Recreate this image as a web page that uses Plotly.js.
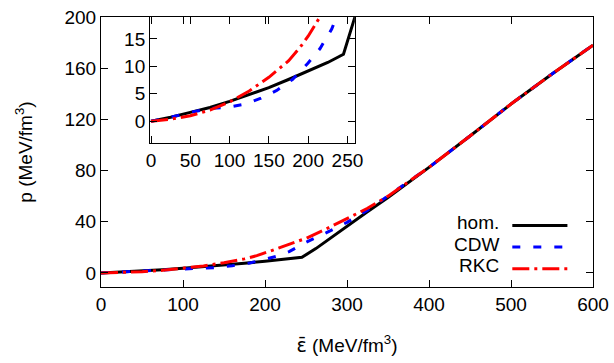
<!DOCTYPE html>
<html>
<head>
<meta charset="utf-8">
<script src="https://cdn.plot.ly/plotly-3.0.1.min.js"></script>
<style>html,body{margin:0;padding:0;background:#fff;}#plot{width:614px;height:363px;}</style>
</head>
<body>
<div id="plot"></div>
<script>
// Series data (energy density in MeV/fm^3, pressure in MeV/fm^3)
const homEps = [0,25,50,75,100,125,150,175,200,225,245,262,300,324,350,400,450,500,550,600];
const homP   = [0,0.7,1.6,2.5,3.6,4.8,6.1,7.6,9.1,10.7,12.2,19,36.8,47.4,59,82.5,107,132,155.5,178];

const cdwEps = [0,25,50,75,100,120,140,160,180,200,215,230,250,275,300,325,350,375,400,450,500,550,600];
const cdwP   = [0,0.7,1.6,2.3,2.6,3.1,4.2,5.6,7.6,10.6,13.2,16.8,24,31.5,39.5,49,60,71,82.5,107,132,155.5,178];

const rkcEps = [0,25,50,75,100,125,150,175,190,200,215,230,250,275,300,325,350,375,400,450,500,550,600];
const rkcP   = [0,0.35,1.0,2.0,3.5,5.5,8.0,11.0,13.5,15.5,19,22.5,27,34.5,42.5,50.5,60,71,82.5,107,132,155.5,178];

const seriesNames = ["hom.", "CDW", "RKC"];
const mainXTicks = [0,100,200,300,400,500,600];
const mainYTicks = [0,40,80,120,160,200];
const insetXTicks = [0,50,100,150,200,250];
const insetYTicks = [0,5,10,15];

const styles = [
  {color:'#000000', width:3, dash:'solid'},
  {color:'#0000ff', width:3, dash:'8px,13px'},
  {color:'#ff0000', width:3, dash:'17px,5px,3px,5px'}
];
const xs = [homEps, cdwEps, rkcEps];
const ys = [homP, cdwP, rkcP];

const traces = [];
for (let i = 0; i < 3; i++) {
  traces.push({x: xs[i], y: ys[i], mode:'lines', name: seriesNames[i], line: styles[i], xaxis:'x', yaxis:'y', showlegend:false});
}
for (let i = 0; i < 3; i++) {
  traces.push({x: xs[i], y: ys[i], mode:'lines', name: seriesNames[i], line: styles[i], xaxis:'x2', yaxis:'y2', showlegend:false});
}

const F = "Liberation Sans, Arial, Helvetica, sans-serif";
const FS = 19;
const axisCommon = {
  showline:true, linecolor:'#000', linewidth:1, mirror:'ticks',
  ticks:'inside', ticklen:7, tickwidth:1, tickcolor:'#000',
  showgrid:false, zeroline:false, tickfont:{family:F, size:FS, color:'#000'}
};

// legend (gnuplot style: label then sample)
const legY = [0.238, 0.158, 0.078];
const annotations = [];
const shapes = [];
for (let i = 0; i < 3; i++) {
  annotations.push({xref:'paper', yref:'paper', x:0.812, y:legY[i], xanchor:'right', yanchor:'middle',
    text: seriesNames[i], showarrow:false, font:{family:F, size:FS, color:'#000'}});
  shapes.push({type:'line', xref:'paper', yref:'paper', x0:0.836, x1:0.948, y0:legY[i]-0.01, y1:legY[i]-0.01,
    line:{color:styles[i].color, width:3, dash:styles[i].dash}});
}

const layout = {
  width:614, height:363,
  margin:{l:101, r:21, t:17, b:76},
  paper_bgcolor:'#fff', plot_bgcolor:'rgba(0,0,0,0)',
  font:{family:F, size:FS, color:'#000'},
  xaxis: Object.assign({}, axisCommon, {range:[0,600], tickvals:mainXTicks, domain:[0,1], anchor:'y',
    title:{text:'<span style="font-family:DejaVu Sans">ε̄</span> (MeV/fm<sup>3</sup>)', font:{family:F, size:FS}, standoff:24}}),
  yaxis: Object.assign({}, axisCommon, {range:[-11,200], tickvals:mainYTicks, domain:[0,1], anchor:'x',
    title:{text:'p (MeV/fm<sup>3</sup>)', font:{family:F, size:FS}, standoff:26}}),
  xaxis2: Object.assign({}, axisCommon, {range:[-1.3,259.5], tickvals:insetXTicks, domain:[0.0996,0.516], anchor:'y2'}),
  yaxis2: Object.assign({}, axisCommon, {range:[-4,19], tickvals:insetYTicks, domain:[0.533,1], anchor:'x2'}),
  annotations: annotations,
  shapes: shapes,
  showlegend:false
};

Plotly.newPlot('plot', traces, layout, {displayModeBar:false, staticPlot:true});
</script>
</body>
</html>
